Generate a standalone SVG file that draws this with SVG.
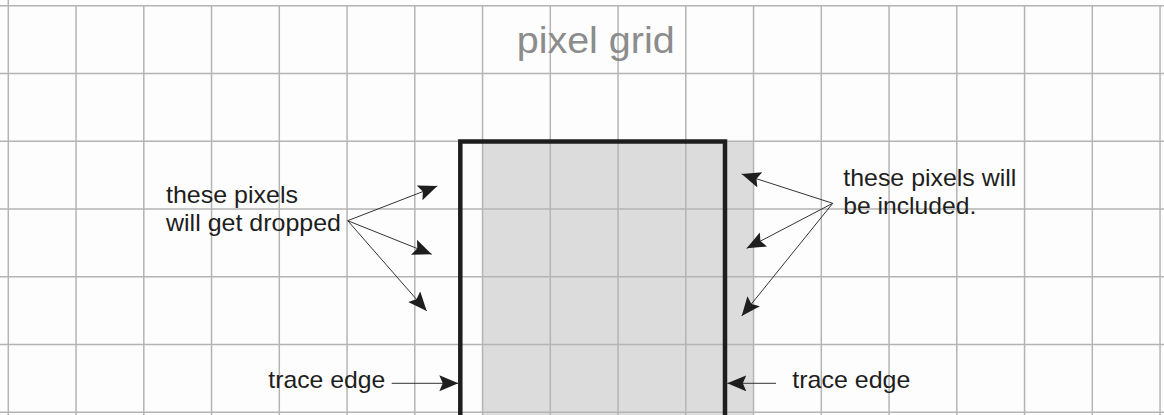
<svg xmlns="http://www.w3.org/2000/svg" width="1164" height="415" viewBox="0 0 1164 415">
  <style>
    .grid { stroke: #b4b4b4; stroke-width: 1.5; fill: none; }
    .lbl { font-family: "Liberation Sans", Arial, sans-serif; font-size: 24px; fill: #1e1e1e; }
    .title { font-family: "Liberation Sans", Arial, sans-serif; font-size: 37px; fill: #8c8c8c; }
    .conn { stroke: #333; stroke-width: 1; fill: none; marker-end: url(#ah); }
  </style>
  <defs>
    <marker id="ah" markerUnits="userSpaceOnUse" markerWidth="22" markerHeight="18" refX="19" refY="8" orient="auto">
      <path d="M0,0 L19,8 L0,16 L3.5,8 z" fill="#1e1e1e"/>
    </marker>
  </defs>
  <rect x="0" y="0" width="1164" height="415" fill="#fdfdfd"/>
  <g id="shaded">
    <rect x="482.5" y="141.2" width="271" height="274" fill="#dcdcdc"/>
  </g>
  <g id="grid" class="grid">
    <path d="M8.3,0V415 M76.05,5.7V415 M143.8,5.7V415 M211.55,5.7V415 M279.3,5.7V415 M347.05,5.7V415 M414.8,5.7V415 M482.55,5.7V415 M550.3,5.7V415 M618.05,5.7V415 M685.8,5.7V415 M753.55,5.7V415 M821.3,5.7V415 M889.05,5.7V415 M956.8,5.7V415 M1024.55,5.7V415 M1092.3,5.7V415 M1160.05,5.7V415"/>
    <path d="M0,5.7H1164 M0,73.45H1164 M0,141.2H1164 M0,208.95H1164 M0,276.7H1164 M0,344.45H1164 M0,412.2H1164"/>
  </g>
  <g id="title">
    <text class="title" x="516.7" y="53.3" textLength="158" lengthAdjust="spacingAndGlyphs">pixel grid</text>
  </g>
  <g id="trace">
    <path d="M460.3,415 V141.6 H725 V415" fill="none" stroke="#1e1e1e" stroke-width="4.5"/>
  </g>
  <g id="label-dropped">
    <text class="lbl" x="166" y="203.3" textLength="132" lengthAdjust="spacingAndGlyphs">these pixels</text>
    <text class="lbl" x="166" y="230.7" textLength="175" lengthAdjust="spacingAndGlyphs">will get dropped</text>
  </g>
  <g id="label-included">
    <text class="lbl" x="843.3" y="186" textLength="173" lengthAdjust="spacingAndGlyphs">these pixels will</text>
    <text class="lbl" x="843.3" y="214" textLength="133" lengthAdjust="spacingAndGlyphs">be included.</text>
  </g>
  <g id="label-trace-left">
    <text class="lbl" x="268.3" y="388" textLength="117" lengthAdjust="spacingAndGlyphs">trace edge</text>
  </g>
  <g id="label-trace-right">
    <text class="lbl" x="792.3" y="388" textLength="118" lengthAdjust="spacingAndGlyphs">trace edge</text>
  </g>
  <g id="connectors">
    <line class="conn" x1="347.7" y1="220.7" x2="437.3" y2="186"/>
    <line class="conn" x1="347.7" y1="220.7" x2="431.7" y2="254.3"/>
    <line class="conn" x1="347.7" y1="220.7" x2="426.7" y2="311"/>
    <line class="conn" x1="832.7" y1="203.3" x2="741.7" y2="174"/>
    <line class="conn" x1="832.7" y1="203.3" x2="746.7" y2="248.3"/>
    <line class="conn" x1="832.7" y1="203.3" x2="741.7" y2="316"/>
    <line class="conn" x1="391.7" y1="383.3" x2="458.3" y2="383.3"/>
    <line class="conn" x1="776" y1="383.3" x2="727.3" y2="383.3"/>
  </g>
</svg>
